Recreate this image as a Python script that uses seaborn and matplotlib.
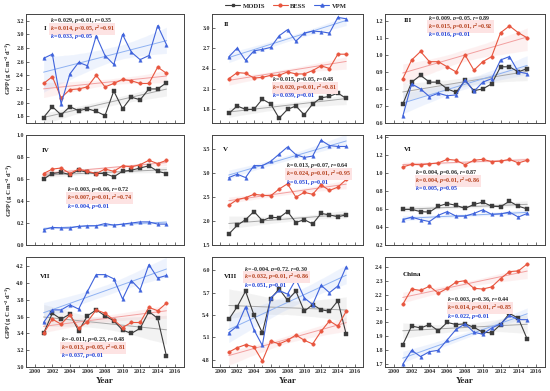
import numpy as np
import pandas as pd
import matplotlib
matplotlib.use('Agg')
import matplotlib.pyplot as plt
from matplotlib.lines import Line2D
from matplotlib.ticker import MultipleLocator
import seaborn as sns

# Années et valeurs
years = list(range(2001, 2016))

modis_I = [1.78, 1.94, 1.82, 1.94, 1.88, 1.91, 1.87, 1.81, 2.17, 1.91, 2.08, 2.04, 2.20, 2.20, 2.29]
bess_I = [2.28, 2.38, 2.07, 2.19, 2.20, 2.23, 2.40, 2.23, 2.28, 2.34, 2.32, 2.28, 2.28, 2.52, 2.43]
vpm_I = [2.65, 2.71, 1.98, 2.42, 2.59, 2.54, 2.98, 2.69, 2.56, 3.00, 2.74, 2.63, 2.69, 3.13, 2.85]

modis_II = [1.74, 1.85, 1.80, 1.80, 1.95, 1.88, 1.67, 1.80, 1.85, 1.72, 1.88, 1.97, 1.99, 2.04, 1.96]
bess_II = [2.25, 2.34, 2.33, 2.26, 2.27, 2.30, 2.30, 2.35, 2.32, 2.32, 2.37, 2.44, 2.40, 2.61, 2.61]
vpm_II = [2.57, 2.70, 2.52, 2.66, 2.68, 2.71, 2.88, 2.97, 2.80, 2.92, 2.95, 2.94, 2.92, 3.15, 3.13]

modis_III = [0.71, 0.84, 0.88, 0.84, 0.84, 0.80, 0.78, 0.85, 0.79, 0.80, 0.83, 0.93, 0.93, 0.90, 0.92]
bess_III = [0.86, 0.97, 1.02, 0.96, 0.96, 0.93, 0.90, 1.00, 0.91, 0.96, 0.99, 1.13, 1.17, 1.13, 1.10]
vpm_III = [0.64, 0.83, 0.80, 0.755, 0.775, 0.76, 0.765, 0.855, 0.785, 0.84, 0.86, 0.97, 0.99, 0.90, 0.89]

modis_IV = [0.60, 0.65, 0.66, 0.64, 0.68, 0.66, 0.65, 0.65, 0.62, 0.67, 0.68, 0.70, 0.72, 0.67, 0.65]
bess_IV = [0.65, 0.69, 0.70, 0.65, 0.69, 0.67, 0.65, 0.69, 0.67, 0.72, 0.71, 0.73, 0.77, 0.74, 0.77]
vpm_IV = [0.14, 0.16, 0.155, 0.155, 0.17, 0.175, 0.175, 0.195, 0.18, 0.19, 0.20, 0.21, 0.21, 0.19, 0.19]

modis_V = [1.73, 1.91, 2.03, 2.20, 2.01, 2.08, 2.07, 2.20, 1.97, 2.03, 1.94, 2.16, 2.13, 2.09, 2.13]
bess_V = [2.33, 2.45, 2.49, 2.56, 2.54, 2.53, 2.67, 2.78, 2.50, 2.60, 2.56, 2.76, 2.64, 2.71, 2.87]
vpm_V = [2.91, 2.98, 2.91, 3.16, 3.16, 3.25, 3.40, 3.55, 3.39, 3.33, 3.36, 3.69, 3.58, 3.56, 3.56]

modis_VI = [0.595, 0.595, 0.57, 0.565, 0.63, 0.66, 0.64, 0.605, 0.65, 0.675, 0.63, 0.625, 0.685, 0.63, 0.60]
bess_VI = [1.065, 1.095, 1.09, 1.10, 1.11, 1.15, 1.14, 1.09, 1.14, 1.15, 1.125, 1.13, 1.15, 1.11, 1.14]
vpm_VI = [0.48, 0.51, 0.48, 0.46, 0.53, 0.57, 0.52, 0.52, 0.55, 0.59, 0.54, 0.545, 0.565, 0.51, 0.55]

modis_VII = [3.40, 3.64, 3.57, 3.63, 3.43, 3.61, 3.68, 3.61, 3.55, 3.44, 3.40, 3.46, 3.66, 3.58, 3.13]
bess_VII = [3.40, 3.57, 3.51, 3.62, 3.46, 3.54, 3.68, 3.64, 3.56, 3.47, 3.53, 3.53, 3.71, 3.67, 3.76]
vpm_VII = [3.53, 3.68, 3.68, 3.74, 3.69, 3.90, 4.10, 4.10, 4.05, 3.81, 4.03, 3.92, 4.22, 4.06, 4.09]

modis_VIII = [5.34, 5.51, 5.72, 5.40, 5.16, 5.62, 5.75, 5.60, 5.72, 5.45, 5.54, 5.47, 5.45, 5.59, 5.14]
bess_VIII = [4.90, 4.96, 5.00, 4.97, 4.78, 5.05, 5.01, 5.06, 5.13, 5.06, 5.01, 5.18, 5.32, 5.25, 5.45]
vpm_VIII = [5.16, 5.25, 5.51, 5.20, 4.99, 5.63, 5.73, 5.68, 5.88, 5.63, 5.54, 5.80, 5.70, 5.79, 6.05]

modis_CN = [1.84, 1.975, 1.96, 1.985, 1.94, 2.00, 1.985, 1.99, 1.965, 1.93, 1.925, 1.985, 2.065, 2.03, 1.88]
bess_CN = [2.13, 2.24, 2.23, 2.26, 2.21, 2.245, 2.29, 2.30, 2.245, 2.24, 2.255, 2.315, 2.365, 2.37, 2.42]
vpm_CN = [1.70, 1.80, 1.755, 1.79, 1.80, 1.875, 1.95, 1.99, 1.93, 1.915, 1.96, 1.99, 2.05, 2.02, 2.02]

panel_names = ['I', 'II', 'III', 'IV', 'V', 'VI', 'VII', 'VIII', 'China']
modis_all = [modis_I, modis_II, modis_III, modis_IV, modis_V, modis_VI, modis_VII, modis_VIII, modis_CN]
bess_all = [bess_I, bess_II, bess_III, bess_IV, bess_V, bess_VI, bess_VII, bess_VIII, bess_CN]
vpm_all = [vpm_I, vpm_II, vpm_III, vpm_IV, vpm_V, vpm_VI, vpm_VII, vpm_VIII, vpm_CN]

stats_modis = ['0.029, $p$=0.01, $r$=0.35', '0.015, $p$=0.05, $r$=0.48', '0.009, $p$=0.05, $r$=0.89',
               '0.003, $p$=0.06, $r$=0.72', '0.013, $p$=0.07, $r$=0.64', '0.004, $p$=0.06, $r$=0.87',
               '-0.011, $p$=0.23, $r$=0.48', '-0.004, $p$=0.72, $r$=0.30', '0.003, $p$=0.36, $r$=0.44']
stats_bess = ['0.014, $p$<0.05, $r^2$=0.91', '0.020, $p$=0.01, $r^2$=0.81', '0.015, $p$=0.01, $r^2$=0.92',
              '0.007, $p$=0.01, $r^2$=0.74', '0.024, $p$=0.01, $r^2$=0.95', '0.004, $p$=0.01, $r^2$=0.86',
              '0.013, $p$=0.05, $r^2$=0.81', '0.032, $p$=0.01, $r^2$=0.86', '0.014, $p$=0.01, $r^2$=0.85']
stats_vpm = ['0.033, $p$=0.05', '0.039, $p$=0.01', '0.016, $p$=0.01', '0.004, $p$=0.01', '0.051, $p$=0.01',
             '0.005, $p$=0.05', '0.037, $p$=0.01', '0.051, $p$=0.01', '0.022, $p$=0.01']

ylims = [(1.7, 3.3), (1.6, 3.2), (0.6, 1.24), (0.0, 1.0), (1.5, 3.8), (0.2, 1.42),
         (3.0, 4.31), (4.7, 6.18), (1.68, 2.47)]
ysteps = [0.2, 0.3, 0.1, 0.2, 0.5, 0.2, 0.2, 0.3, 0.1]

# position des textes (fraction d'axe): étiquette du panneau puis bloc des stats
label_pos = [(0.11, 0.87), (0.08, 0.90), (0.12, 0.94), (0.10, 0.86), (0.07, 0.87),
             (0.12, 0.87), (0.09, 0.82), (0.08, 0.82), (0.11, 0.84)]
stats_pos = [(0.15, 0.94), (0.40, 0.40), (0.27, 0.96), (0.26, 0.50), (0.49, 0.72),
             (0.19, 0.66), (0.22, 0.25), (0.21, 0.89), (0.39, 0.61)]

# Style graphique
sns.set_style('ticks')
plt.rcParams['font.family'] = ['Liberation Serif', 'DejaVu Serif']
plt.rcParams['font.weight'] = 'bold'
plt.rcParams['axes.labelweight'] = 'bold'
plt.rcParams['mathtext.fontset'] = 'custom'
plt.rcParams['mathtext.rm'] = 'Liberation Serif:bold'
plt.rcParams['mathtext.it'] = 'Liberation Serif:italic:bold'
plt.rcParams['mathtext.bf'] = 'Liberation Serif:bold'
plt.rcParams['xtick.direction'] = 'in'
plt.rcParams['ytick.direction'] = 'in'

c_modis, c_bess, c_vpm = '#3c3c3c', '#e8553e', '#3f63dc'
f_modis, f_bess, f_vpm = '#a8a8a8', '#f2a0a0', '#8fb2f2'
t_modis, t_bess, t_vpm = '#2a2a2a', '#b5401c', '#1f3fd6'

W, H = 550, 391
fig = plt.figure(figsize=(5.5, 3.91), dpi=100)

col_px = [(26, 158), (212, 151), (385, 160)]
row_px = [(14, 109), (135, 110), (257, 110)]

for i, name in enumerate(panel_names):
    r, c = divmod(i, 3)
    x0, w = col_px[c]
    y0, h = row_px[r]
    ax = fig.add_axes([x0 / W, 1 - (y0 + h) / H, w / W, h / H])

    series = [(modis_all[i], c_modis, f_modis, 's'),
              (bess_all[i], c_bess, f_bess, 'o'),
              (vpm_all[i], c_vpm, f_vpm, '^')]
    for vals, col, fcol, mk in series:
        sns.regplot(x=np.array(years), y=np.array(vals), ax=ax, scatter=False, ci=95, seed=0,
                    color=fcol, line_kws={'lw': 0.7})
    for vals, col, fcol, mk in series:
        sns.lineplot(x=years, y=vals, ax=ax, color=col, lw=0.8, marker=mk, markersize=2.5,
                     markeredgewidth=0.3, markeredgecolor=col)

    ax.set_xlim(1999, 2017)
    ax.set_ylim(*ylims[i])
    ax.xaxis.set_major_locator(MultipleLocator(2))
    ax.xaxis.set_minor_locator(MultipleLocator(1))
    ax.yaxis.set_major_locator(MultipleLocator(ysteps[i]))
    ax.tick_params(axis='both', which='major', labelsize=4.3, length=2, width=0.5, pad=1.5,
                   colors='#333333', top=False, right=False)
    ax.tick_params(axis='x', which='minor', length=1.2, width=0.4, color='#333333')
    ax.yaxis.set_major_formatter(matplotlib.ticker.FormatStrFormatter('%.1f'))
    for sp in ax.spines.values():
        sp.set_linewidth(0.7)
        sp.set_color('#444444')

    if r < 2:
        ax.set_xticklabels([])
        ax.set_xlabel('')
    else:
        ax.set_xlabel('Year', fontsize=6.5, labelpad=2)
    if c == 0:
        ax.set_ylabel('GPP (g C m$^{-2}$ d$^{-1}$)', fontsize=4.8, labelpad=2)
    else:
        ax.set_ylabel('')

    ax.text(*label_pos[i], name, transform=ax.transAxes, fontsize=5, fontweight='bold',
            va='center', ha='left', color='#111111')
    sx, sy = stats_pos[i]
    ax.text(sx, sy, '$k$= ' + stats_modis[i], transform=ax.transAxes, fontsize=4.3,
            color=t_modis, va='center', ha='left')
    ax.text(sx, sy - 0.075, '$k$= ' + stats_bess[i], transform=ax.transAxes, fontsize=4.3,
            color=t_bess, va='center', ha='left',
            bbox=dict(boxstyle='square,pad=0.15', fc='#fde3e3', ec='none'))
    ax.text(sx, sy - 0.15, '$k$= ' + stats_vpm[i], transform=ax.transAxes, fontsize=4.3,
            color=t_vpm, va='center', ha='left')

handles = [Line2D([], [], color=c_modis, marker='s', markersize=2, lw=0.8),
           Line2D([], [], color=c_bess, marker='o', markersize=2, lw=0.8),
           Line2D([], [], color=c_vpm, marker='^', markersize=2.2, lw=0.8)]
fig.legend(handles, ['MODIS', 'BESS', 'VPM'], loc='center', bbox_to_anchor=(0.52, 0.985),
           ncol=3, frameon=False, fontsize=4.8, handlelength=2.2, columnspacing=1.2,
           handletextpad=0.4)

fig.savefig('out.png', dpi=100)
